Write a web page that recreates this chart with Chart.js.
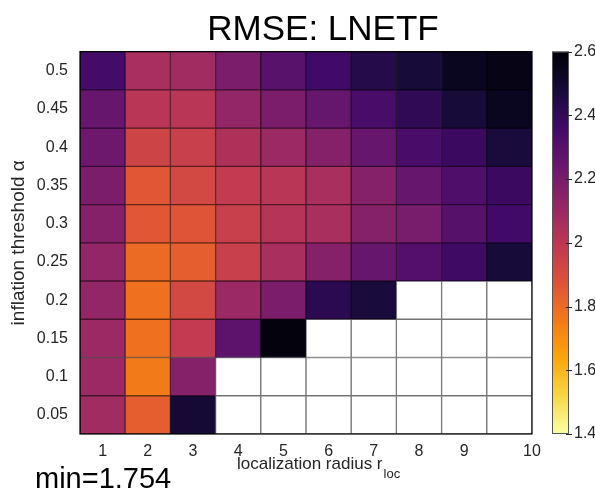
<!DOCTYPE html>
<html>
<head>
<meta charset="utf-8">
<script src="https://cdn.jsdelivr.net/npm/chart.js@4.4.0/dist/chart.umd.min.js"></script>
<style>
html, body { margin: 0; padding: 0; background: #fff; }
#wrap { width: 595px; height: 495px; }
</style>
</head>
<body>
<div id="wrap"><canvas id="graph" width="595" height="495"></canvas></div>
<script>
// localization radius (columns) and inflation threshold (rows, top to bottom)
var radii = [1, 2, 3, 4, 5, 6, 7, 8, 9, 10];
var alphas = [0.5, 0.45, 0.4, 0.35, 0.3, 0.25, 0.2, 0.15, 0.1, 0.05];
// RMSE per row, null = not available (drawn white)
var rmse = [
    [2.35, 2.06, 2.08, 2.19, 2.29, 2.36, 2.44, 2.48, 2.54, 2.56],
    [2.25, 2.01, 2.01, 2.12, 2.19, 2.25, 2.34, 2.41, 2.48, 2.54],
    [2.23, 1.94, 1.96, 2.04, 2.10, 2.16, 2.25, 2.34, 2.38, 2.47],
    [2.19, 1.86, 1.92, 1.98, 2.01, 2.06, 2.16, 2.25, 2.32, 2.38],
    [2.16, 1.86, 1.87, 1.96, 2.02, 2.06, 2.16, 2.20, 2.30, 2.36],
    [2.12, 1.80, 1.84, 1.96, 2.06, 2.16, 2.25, 2.31, 2.37, 2.48],
    [2.12, 1.78, 1.92, 2.10, 2.19, 2.42, 2.47, null, null, null],
    [2.10, 1.78, 1.98, 2.28, 2.58, null, null, null, null, null],
    [2.10, 1.754, 2.16, null, null, null, null, null, null, null],
    [2.08, 1.84, 2.49, null, null, null, null, null, null, null]
];
var colorMin = 1.4;
var colorMax = 2.6;
var minLabel = "min=1.754";

var g_inferno = ["#000004", "#160b39", "#420a68", "#6a176e", "#932667", "#bc3754",
    "#dd513a", "#f37819", "#fca50a", "#f6d746", "#fcffa4"];
var g_font = "'Liberation Sans', Arial, Helvetica, sans-serif";
var g_textColor = "#262626";

function hexToRgb(h) {
    return [parseInt(h.substr(1, 2), 16), parseInt(h.substr(3, 2), 16), parseInt(h.substr(5, 2), 16)];
}
// reversed inferno: low values light, high values dark
function cellRgb(v) {
    if (v === null) return [255, 255, 255];
    var t = (colorMax - v) / (colorMax - colorMin);
    t = Math.max(0, Math.min(1, t)) * (g_inferno.length - 1);
    var i = Math.min(Math.floor(t), g_inferno.length - 2);
    var f = t - i;
    var a = hexToRgb(g_inferno[i]), b = hexToRgb(g_inferno[i + 1]);
    return [0, 1, 2].map(function (k) { return Math.round(a[k] + (b[k] - a[k]) * f); });
}
function cellColor(v) {
    var c = cellRgb(v);
    return "rgb(" + c.join(",") + ")";
}
function edgeColor(v) {
    var c = cellRgb(v).map(function (x) { return Math.round(x * 0.45); });
    return "rgb(" + c.join(",") + ")";
}

var datasets = alphas.map(function (a, r) {
    return {
        label: "alpha " + a,
        data: radii.map(function (rad) { return { x: rad, y: [a - 0.025, a + 0.025] }; }),
        backgroundColor: rmse[r].map(cellColor),
        borderColor: rmse[r].map(edgeColor),
        borderWidth: 1,
        borderSkipped: false,
        grouped: false,
        barPercentage: 1,
        categoryPercentage: 1
    };
});

var decorPlugin = {
    id: "decor",
    afterDatasetsDraw: function (chart) {
        var ctx = chart.ctx;
        var area = chart.chartArea;
        var yc = chart.scales.yc;
        ctx.save();
        // axes box
        ctx.strokeStyle = "#000";
        ctx.lineWidth = 1.2;
        ctx.strokeRect(area.left, area.top, area.right - area.left, area.bottom - area.top);

        // colorbar
        var x0 = 552, x1 = 569;
        var top = yc.getPixelForValue(colorMax), bot = yc.getPixelForValue(colorMin);
        var grad = ctx.createLinearGradient(0, bot, 0, top);
        for (var i = 0; i < g_inferno.length; i++) {
            grad.addColorStop(i / (g_inferno.length - 1), g_inferno[g_inferno.length - 1 - i]);
        }
        ctx.fillStyle = grad;
        ctx.fillRect(x0, top, x1 - x0, bot - top);
        ctx.strokeStyle = "#555";
        ctx.lineWidth = 1;
        ctx.strokeRect(x0 + 0.5, top + 0.5, x1 - x0 - 1, bot - top - 1);
        ctx.strokeStyle = g_textColor;
        yc.ticks.forEach(function (t) {
            var y = Math.round(yc.getPixelForValue(t.value)) + 0.5;
            ctx.beginPath();
            ctx.moveTo(x1 - 3, y);
            ctx.lineTo(x1 + 3, y);
            ctx.stroke();
        });

        // title
        ctx.fillStyle = "#000";
        ctx.font = "35px " + g_font;
        ctx.textAlign = "center";
        ctx.textBaseline = "alphabetic";
        ctx.fillText("RMSE: LNETF", 323, 40);

        // x axis label with subscript
        ctx.fillStyle = g_textColor;
        ctx.textAlign = "left";
        ctx.font = "17px " + g_font;
        var main = "localization radius r";
        ctx.fillText(main, 237, 469);
        var w = ctx.measureText(main).width;
        ctx.font = "13px " + g_font;
        ctx.fillText("loc", 237 + w + 1, 478);

        // minimum
        ctx.fillStyle = "#000";
        ctx.font = "29px " + g_font;
        ctx.fillText(minLabel, 35, 488);
        ctx.restore();
    }
};

var ctx = document.getElementById("graph").getContext("2d");
var g_chart = new Chart(ctx, {
    type: "bar",
    data: { datasets: datasets },
    options: {
        responsive: false,
        animation: false,
        layout: { padding: { left: 0, right: 0, top: 49, bottom: 0 } },
        plugins: {
            legend: { display: false },
            tooltip: { enabled: false },
            title: { display: false }
        },
        scales: {
            x: {
                type: "linear",
                offset: false,
                min: 0.5,
                max: 10.5,
                grid: { display: false, drawTicks: false },
                border: { display: false },
                afterBuildTicks: function (axis) {
                    var t = radii.slice(0, radii.length - 1).map(function (v) { return { value: v }; });
                    t.push({ value: 10.5 });
                    axis.ticks = t;
                },
                ticks: {
                    padding: 8,
                    maxRotation: 0,
                    autoSkip: false,
                    color: g_textColor,
                    font: { family: g_font, size: 16 },
                    callback: function (v) { return v === 10.5 ? "10" : String(v); }
                },
                afterFit: function (axis) { axis.height = 61; }
            },
            y: {
                type: "linear",
                min: 0.025,
                max: 0.525,
                grid: { display: false, drawTicks: false },
                border: { display: false },
                afterBuildTicks: function (axis) {
                    axis.ticks = alphas.map(function (v) { return { value: v }; });
                },
                ticks: {
                    padding: 12,
                    autoSkip: false,
                    color: g_textColor,
                    font: { family: g_font, size: 16 },
                    callback: function (v) { return String(+v.toFixed(2)); }
                },
                title: {
                    display: true,
                    text: "inflation threshold \u03b1",
                    color: g_textColor,
                    font: { family: g_font, size: 19 },
                    padding: { top: 7, bottom: 0 }
                },
                afterFit: function (axis) { axis.width = 80; }
            },
            yc: {
                type: "linear",
                position: "right",
                min: colorMin,
                max: colorMax,
                grid: { display: false, drawTicks: false },
                border: { display: false },
                ticks: {
                    stepSize: 0.2,
                    padding: 42,
                    color: g_textColor,
                    font: { family: g_font, size: 16 },
                    callback: function (v) { return String(+v.toFixed(1)); }
                },
                afterFit: function (axis) { axis.width = 63; }
            }
        }
    },
    plugins: [decorPlugin]
});
</script>
</body>
</html>
